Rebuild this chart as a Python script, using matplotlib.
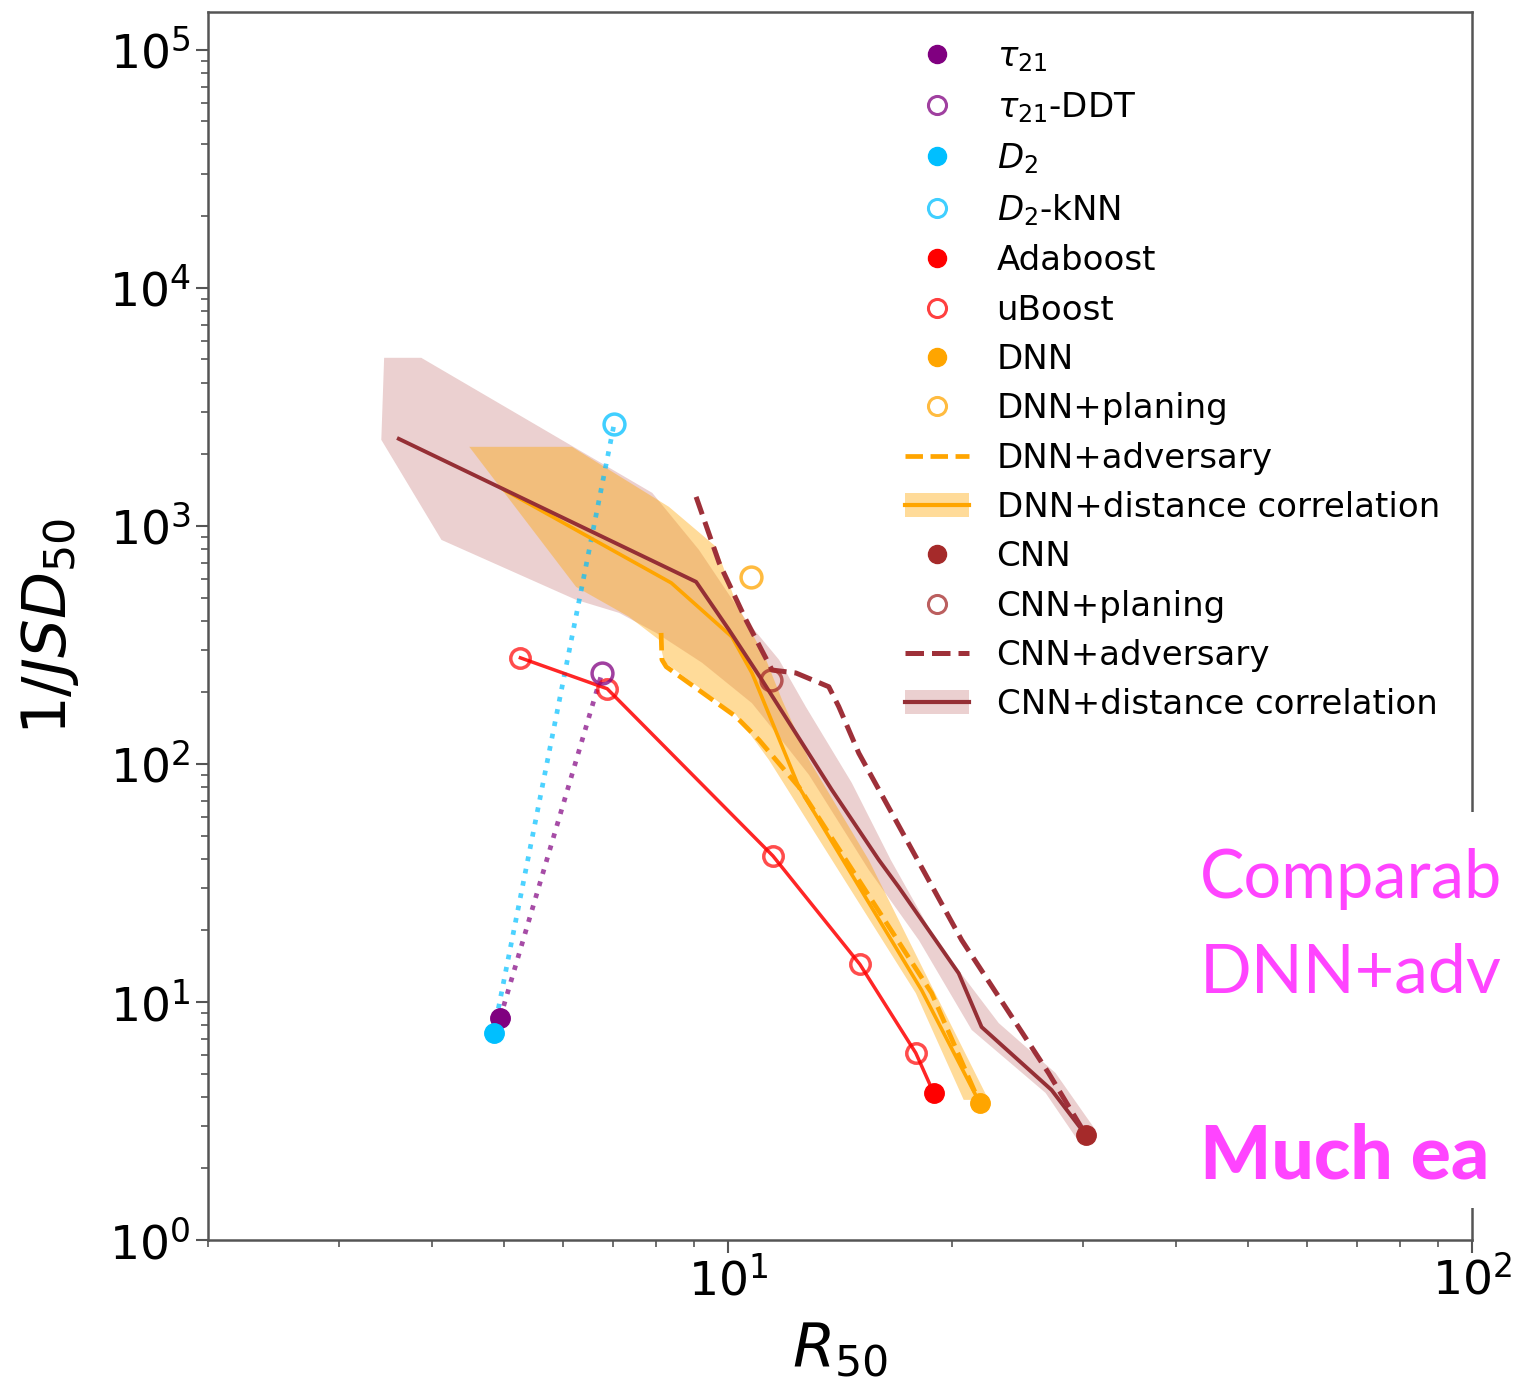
import matplotlib
matplotlib.use("Agg")
import matplotlib.pyplot as plt
import numpy as np
from matplotlib.lines import Line2D
from matplotlib.patches import Patch, Rectangle

# ---- data ----
# single working points (R50, 1/JSD50)
tau21 = (4.94, 8.57)
tau21_ddt = (6.77, 241)
d2 = (4.84, 7.41)
d2_knn = (7.03, 2683)
adaboost = (18.9, 4.15)
dnn = (21.8, 3.76)
dnn_planing = (10.74, 611)
cnn = (30.3, 2.75)
cnn_planing = (11.42, 225)

ubst_x = [5.26, 6.88, 11.49, 15.04, 17.88]
ubst_y = [279, 207, 41.1, 14.4, 6.11]

dnn_adv_x = [8.13, 8.15, 8.26, 10.25, 11.01, 12.45, 18.78]
dnn_adv_y = [355, 274, 256, 158, 126, 80.1, 10.9]

cnn_adv_x = [9.06, 9.73, 10.57, 11.46, 12.34, 13.66, 14.09, 14.99, 20.61, 26.97]
cnn_adv_y = [1324, 699, 403, 248, 241, 211, 174, 111, 18.2, 5.03]

dnn_dc_x = [5.00, 8.39, 10.12, 10.77, 12.45, 18.21]
dnn_dc_y = [1417, 576, 342, 241, 80.1, 11.2]
dnn_dc_up_x = [4.49, 6.17, 8.33, 9.64, 10.25, 11.25, 11.82, 12.85, 15.46, 18.90, 22.40]
dnn_dc_up_y = [2148, 2148, 1202, 816, 475, 274, 186, 104, 39.5, 11.2, 3.88]
dnn_dc_lo_x = [4.49, 6.25, 7.36, 8.08, 8.21, 10.25, 11.35, 17.88, 20.74]
dnn_dc_lo_y = [2148, 554, 415, 332, 268, 161, 104, 10.9, 3.88]

cnn_dc_x = [3.61, 9.06, 10.03, 11.11, 13.79, 15.95, 16.96, 20.42, 21.92, 27.22]
cnn_dc_y = [2321, 582, 366, 225, 77.8, 39.5, 30.4, 13.2, 7.85, 4.27]
cnn_dc_up_x = [3.45, 3.87, 7.91, 9.14, 10.57, 11.71, 12.72, 14.67, 16.55, 19.02, 23.11, 27.56, 31.19]
cnn_dc_up_y = [5081, 5081, 1376, 793, 403, 274, 174, 83.2, 39.5, 18.2, 8.16, 5.03, 2.90]
cnn_dc_lo_x = [3.42, 4.12, 6.25, 7.14, 8.01, 9.23, 10.77, 11.60, 12.85, 15.46, 18.05, 21.26, 26.72, 29.32]
cnn_dc_lo_y = [2298, 873, 489, 431, 355, 266, 180, 135, 89.9, 35.9, 18.2, 7.63, 4.15, 2.71]

labels = [r"$\tau_{21}$", r"$\tau_{21}$-DDT", r"$D_2$", r"$D_2$-kNN", "Adaboost", "uBoost",
          "DNN", "DNN+planing", "DNN+adversary", "DNN+distance correlation",
          "CNN", "CNN+planing", "CNN+adversary", "CNN+distance correlation"]
note_lines = ["Comparab", "DNN+adv", "Much ea"]

PURPLE = "#800080"
BLUE = "#00BFFF"
RED = "#FF0000"
ORANGE = "#FFA500"
BROWN = "#A52A2A"
CNN_LINE = "#952F35"
CNN_ADV = "#9E3039"
MAGENTA = "#FF44FF"

fig = plt.figure(figsize=(15.18, 13.84), dpi=100)
ax = fig.add_axes([0.137, 0.104, 0.8327, 0.8873])
ax.set_xscale("log")
ax.set_yscale("log")

# bands
ax.fill(np.concatenate([cnn_dc_up_x, cnn_dc_lo_x[::-1]]),
        np.concatenate([cnn_dc_up_y, cnn_dc_lo_y[::-1]]),
        color=BROWN, alpha=0.22, lw=0, zorder=1)
ax.fill(np.concatenate([dnn_dc_up_x, dnn_dc_lo_x[::-1]]),
        np.concatenate([dnn_dc_up_y, dnn_dc_lo_y[::-1]]),
        color=ORANGE, alpha=0.4, lw=0, zorder=1.1)

# dotted connectors
ax.plot([tau21[0], tau21_ddt[0]], [tau21[1], tau21_ddt[1]], ls=":", lw=3.4,
        color=PURPLE, alpha=0.7, zorder=2)
ax.plot([d2[0], d2_knn[0]], [d2[1], d2_knn[1]], ls=":", lw=3.4,
        color=BLUE, alpha=0.7, zorder=2)

# distance correlation central lines
ax.plot(dnn_dc_x + [dnn[0]], dnn_dc_y + [dnn[1]], color=ORANGE, lw=2.6, zorder=2.5)
ax.plot(cnn_dc_x + [cnn[0]], cnn_dc_y + [cnn[1]], color=CNN_LINE, lw=2.8, zorder=2.6)

# adversary
ax.plot(dnn_adv_x + [dnn[0]], dnn_adv_y + [dnn[1]], color=ORANGE, ls="--", lw=3.4, zorder=2.7)
ax.plot(cnn_adv_x + [cnn[0]], cnn_adv_y + [cnn[1]], color=CNN_ADV, ls="--", lw=3.6,
        zorder=2.8)

# uBoost
ax.plot(ubst_x + [adaboost[0]], ubst_y + [adaboost[1]], color=RED, lw=2.5, alpha=0.85, zorder=3)
ax.plot(ubst_x, ubst_y, ls="none", marker="o", ms=14, mfc="none", mec=RED,
        mew=2.5, alpha=0.7, zorder=3.1)

# filled points
for pt, c in [(tau21, PURPLE), (d2, BLUE), (adaboost, RED), (dnn, ORANGE), (cnn, BROWN)]:
    ax.plot(pt[0], pt[1], ls="none", marker="o", ms=14, color=c, zorder=4)
# open points
for pt, c in [(tau21_ddt, PURPLE), (d2_knn, BLUE), (dnn_planing, ORANGE), (cnn_planing, BROWN)]:
    ax.plot(pt[0], pt[1], ls="none", marker="o", ms=15, mfc="none", mec=c,
            mew=2.5, alpha=0.75, zorder=4)

ax.set_xlim(2, 100)
ax.set_ylim(1, 1.44e5)
ax.tick_params(which="major", labelsize=34, length=9, width=1.5, color="#555555")
ax.tick_params(which="minor", length=5, width=1.2, color="#555555")
for s in ax.spines.values():
    s.set_linewidth(1.8)
    s.set_color("#555555")
ax.set_xlabel("$R_{50}$", fontsize=44, labelpad=12)
ax.set_ylabel("$1/JSD_{50}$", fontsize=44, labelpad=20)

handles = [
    Line2D([], [], ls="none", marker="o", ms=13, color=PURPLE),
    Line2D([], [], ls="none", marker="o", ms=13, mfc="none", mec=PURPLE, mew=2.2, alpha=0.75),
    Line2D([], [], ls="none", marker="o", ms=13, color=BLUE),
    Line2D([], [], ls="none", marker="o", ms=13, mfc="none", mec=BLUE, mew=2.2, alpha=0.75),
    Line2D([], [], ls="none", marker="o", ms=13, color=RED),
    Line2D([], [], ls="none", marker="o", ms=13, mfc="none", mec=RED, mew=2.2, alpha=0.75),
    Line2D([], [], ls="none", marker="o", ms=13, color=ORANGE),
    Line2D([], [], ls="none", marker="o", ms=13, mfc="none", mec=ORANGE, mew=2.2, alpha=0.75),
    Line2D([], [], ls="--", lw=3.4, color=ORANGE),
    (Patch(facecolor=ORANGE, alpha=0.4, lw=0), Line2D([], [], lw=3, color=ORANGE)),
    Line2D([], [], ls="none", marker="o", ms=13, color=BROWN),
    Line2D([], [], ls="none", marker="o", ms=13, mfc="none", mec=BROWN, mew=2.2, alpha=0.75),
    Line2D([], [], ls="--", lw=3.6, color=CNN_ADV),
    (Patch(facecolor=BROWN, alpha=0.22, lw=0), Line2D([], [], lw=3, color=CNN_LINE)),
]
ax.legend(handles, labels, loc="upper left", bbox_to_anchor=(0.596, 0.971),
          bbox_transform=fig.transFigure, frameon=False, fontsize=24.5,
          borderpad=0, borderaxespad=0, handlelength=1.9, handletextpad=0.8,
          labelspacing=0.48, numpoints=1)

# overlay from the slide (white box hides part of the right spine)
fig.patches.append(Rectangle((0.7826, 0.1272), 0.3, 0.2861, transform=fig.transFigure,
                             facecolor="white", edgecolor="none", zorder=10))
fig.text(0.7905, 0.3512, note_lines[0], fontsize=48, color=MAGENTA, family="Lato",
         va="baseline", zorder=11)
fig.text(0.7905, 0.2832, note_lines[1], fontsize=49, color=MAGENTA, family="Lato",
         va="baseline", zorder=11)
fig.text(0.7905, 0.1488, note_lines[2], fontsize=54, color=MAGENTA, family="Lato",
         fontweight="black", va="baseline", zorder=11)

fig.savefig("out.png", dpi=100)
